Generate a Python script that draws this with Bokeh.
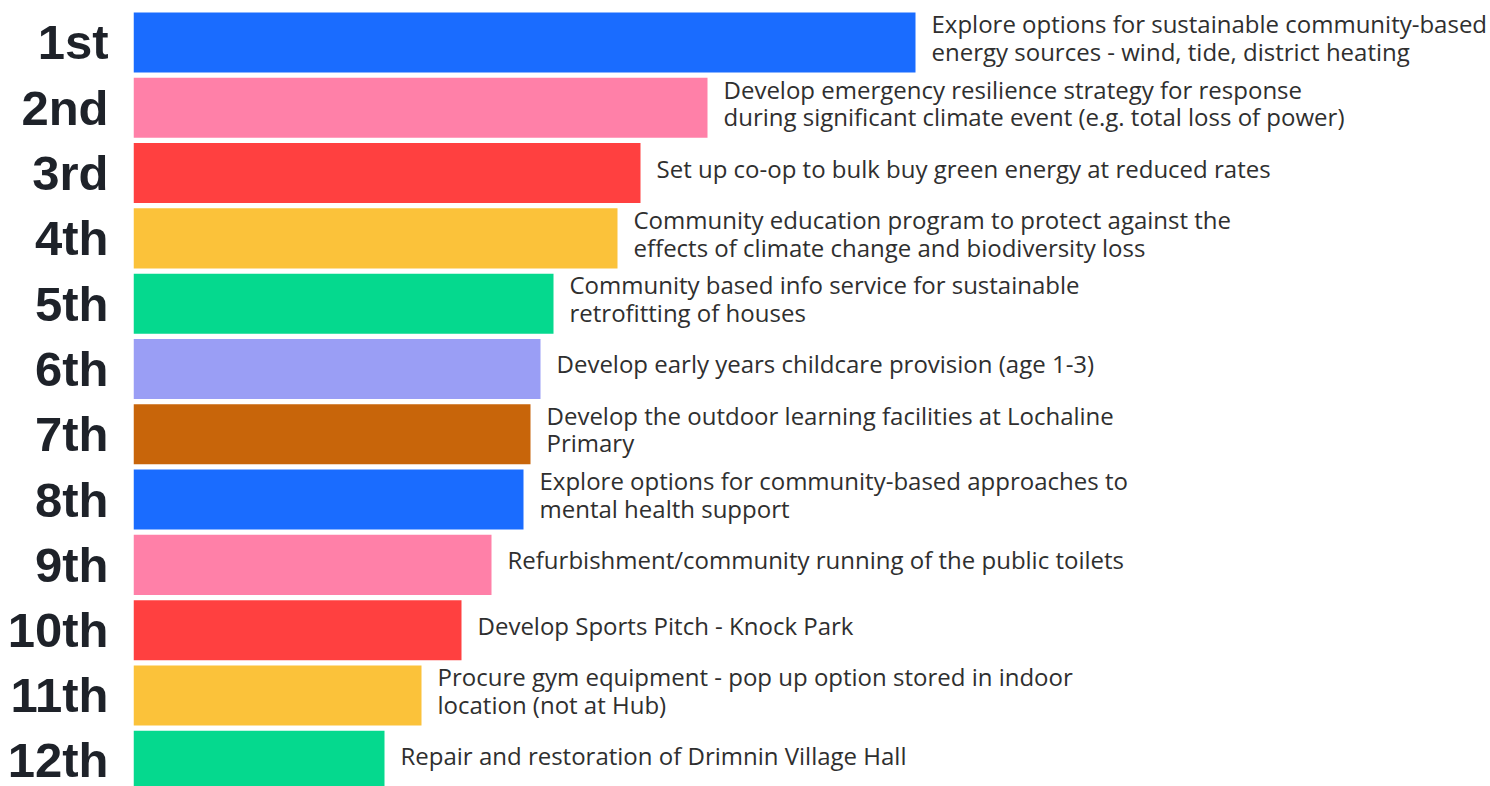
from bokeh.plotting import figure
from bokeh.models import ColumnDataSource, Range1d, FixedTicker
from bokeh.core.properties import value
from bokeh.embed import file_html
from bokeh.resources import INLINE

ranks = ["1st", "2nd", "3rd", "4th", "5th", "6th", "7th", "8th", "9th", "10th", "11th", "12th"]
scores = [78.2, 57.4, 50.7, 48.4, 42.0, 40.7, 39.7, 39.0, 35.8, 32.8, 28.8, 25.1]
labels = [
    "Explore options for sustainable community-based\nenergy sources - wind, tide, district heating",
    "Develop emergency resilience strategy for response\nduring significant climate event (e.g. total loss of power)",
    "Set up co-op to bulk buy green energy at reduced rates",
    "Community education program to protect against the\neffects of climate change and biodiversity loss",
    "Community based info service for sustainable\nretrofitting of houses",
    "Develop early years childcare provision (age 1-3)",
    "Develop the outdoor learning facilities at Lochaline\nPrimary",
    "Explore options for community-based approaches to\nmental health support",
    "Refurbishment/community running of the public toilets",
    "Develop Sports Pitch - Knock Park",
    "Procure gym equipment - pop up option stored in indoor\nlocation (not at Hub)",
    "Repair and restoration of Drimnin Village Hall",
]
colors = ["#1a6cff", "#ff80a8", "#ff4040", "#fbc23a", "#05d98e", "#9a9ef5",
          "#c8650a", "#1a6cff", "#ff80a8", "#ff4040", "#fbc23a", "#05d98e"]

idx = list(range(len(ranks)))
src = ColumnDataSource(dict(y=idx, score=scores, label=labels, color=colors))

p = figure(width=1490, height=786, output_backend="svg", toolbar_location=None,
           x_range=Range1d(0, 135.7), y_range=Range1d(11.394, -0.643),
           min_border=0, min_border_left=133, outline_line_color=None)

p.hbar(y="y", left=0, right="score", height=0.92, fill_color="color",
       line_color=None, source=src)
p.text(x="score", y="y", text="label", source=src, x_offset=16, y_offset=-5,
       text_baseline="middle", text_align="left", text_font=value("Open Sans"),
       text_font_size="24px", text_color="#2f2f2f", text_line_height=0.83)

p.xaxis.visible = False
p.grid.visible = False
ya = p.yaxis[0]
ya.ticker = FixedTicker(ticks=idx)
ya.major_label_overrides = {i: r for i, r in zip(idx, ranks)}
ya.major_tick_line_color = None
ya.minor_tick_line_color = None
ya.axis_line_color = None
ya.major_label_standoff = 19
ya.major_label_text_font = "Liberation Sans"
ya.major_label_text_font_style = "bold"
ya.major_label_text_font_size = "49px"
ya.major_label_text_color = "#1e2229"

open("out.html", "w").write(file_html(p, INLINE))
